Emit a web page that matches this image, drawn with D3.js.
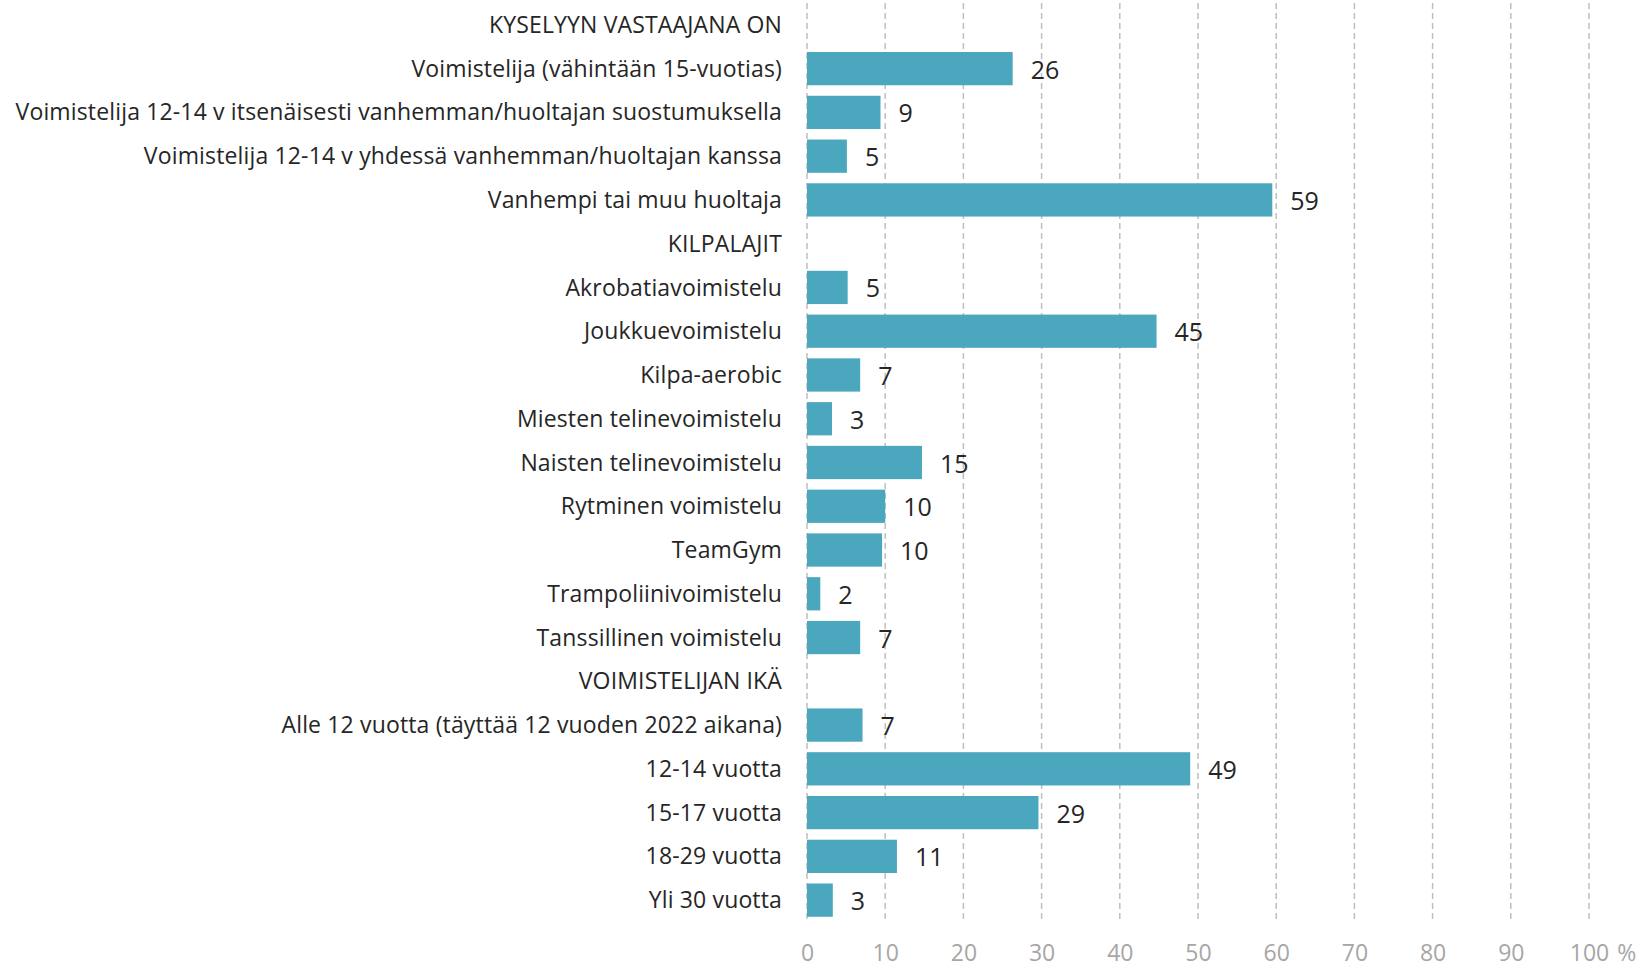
<!DOCTYPE html>
<html lang="fi">
<head>
    <meta charset="utf-8">
    <title>Kysely</title>
    <script src="https://d3js.org/d3.v7.min.js"></script>
    <style>
        body { margin: 0; background: #fff; }
        svg text { font-family: "Open Sans", "Noto Sans", sans-serif; }
    </style>
</head>
<body>
<div id="chart"></div>
<script>
    // rows top to bottom; headers have no value
    var categories = [
        "KYSELYYN VASTAAJANA ON",
        "Voimistelija (vähintään 15-vuotias)",
        "Voimistelija 12-14 v itsenäisesti vanhemman/huoltajan suostumuksella",
        "Voimistelija 12-14 v yhdessä vanhemman/huoltajan kanssa",
        "Vanhempi tai muu huoltaja",
        "KILPALAJIT",
        "Akrobatiavoimistelu",
        "Joukkuevoimistelu",
        "Kilpa-aerobic",
        "Miesten telinevoimistelu",
        "Naisten telinevoimistelu",
        "Rytminen voimistelu",
        "TeamGym",
        "Trampoliinivoimistelu",
        "Tanssillinen voimistelu",
        "VOIMISTELIJAN IKÄ",
        "Alle 12 vuotta (täyttää 12 vuoden 2022 aikana)",
        "12-14 vuotta",
        "15-17 vuotta",
        "18-29 vuotta",
        "Yli 30 vuotta"
    ];
    var values = [null, 26.3, 9.4, 5.1, 59.5, null, 5.2, 44.7, 6.8, 3.2, 14.7, 10.0, 9.6, 1.7, 6.8,
                  null, 7.1, 49.0, 29.6, 11.5, 3.3];
    var valueLabels = ["", "26", "9", "5", "59", "", "5", "45", "7", "3", "15", "10", "10", "2", "7",
                       "", "7", "49", "29", "11", "3"];
    var ticks = [0, 10, 20, 30, 40, 50, 60, 70, 80, 90, 100];

    var W = 1647, H = 970;
    var xLeft = 807, xRight = 1589, yTop = 3, yBottom = 922;

    var svg = d3.select("#chart").append("svg")
        .attr("width", W)
        .attr("height", H);

    var x = d3.scaleLinear().domain([0, 100]).range([xLeft, xRight]);
    var y = d3.scaleBand().domain(categories).range([yTop, yBottom])
        .paddingInner(0.24).paddingOuter(0.12);

    // gridlines
    svg.append("g")
        .selectAll("line")
        .data(ticks)
        .enter().append("line")
        .attr("x1", function(d) { return x(d); })
        .attr("x2", function(d) { return x(d); })
        .attr("y1", yTop)
        .attr("y2", yBottom)
        .attr("stroke", "#bfbfbf")
        .attr("stroke-width", 1.5)
        .attr("stroke-dasharray", "6,4");

    // x axis labels; the "%" hangs after the centred 100
    var xAxis = svg.append("g")
        .attr("transform", "translate(0," + yBottom + ")")
        .call(d3.axisBottom(x).tickValues(ticks).tickSize(0).tickPadding(23));
    xAxis.select(".domain").remove();
    xAxis.selectAll("text")
        .attr("fill", "#a6a6a6")
        .style("font-size", "23px");
    var lastTick = xAxis.selectAll(".tick").filter(function(d) { return d === 100; });
    var lastBox = lastTick.select("text").node().getBBox();
    lastTick.append("text")
        .attr("x", lastBox.x + lastBox.width + 8)
        .attr("y", 23)
        .attr("dy", "0.71em")
        .attr("fill", "#a6a6a6")
        .style("font-size", "23px")
        .style("text-anchor", "start")
        .text("%");

    var rows = categories.map(function(c, i) {
        return { name: c, value: values[i], label: valueLabels[i] };
    });

    // bars
    svg.append("g")
        .selectAll("rect")
        .data(rows.filter(function(d) { return d.value !== null; }))
        .enter().append("rect")
        .attr("x", x(0))
        .attr("y", function(d) { return y(d.name); })
        .attr("width", function(d) { return x(d.value) - x(0); })
        .attr("height", y.bandwidth())
        .attr("fill", "#4ba7bd");

    // category labels
    svg.append("g")
        .selectAll("text")
        .data(rows)
        .enter().append("text")
        .attr("x", xLeft - 25)
        .attr("y", function(d) { return y(d.name) + y.bandwidth() / 2; })
        .attr("dy", "0.35em")
        .attr("text-anchor", "end")
        .attr("fill", "#262626")
        .style("font-size", "23px")
        .style("letter-spacing", "0.15px")
        .text(function(d) { return d.name; });

    // value labels
    svg.append("g")
        .selectAll("text")
        .data(rows.filter(function(d) { return d.value !== null; }))
        .enter().append("text")
        .attr("x", function(d) { return x(d.value) + 18; })
        .attr("y", function(d) { return y(d.name) + y.bandwidth() / 2; })
        .attr("dy", "0.4em")
        .attr("fill", "#262626")
        .style("font-size", "25px")
        .text(function(d) { return d.label; });
</script>
</body>
</html>
